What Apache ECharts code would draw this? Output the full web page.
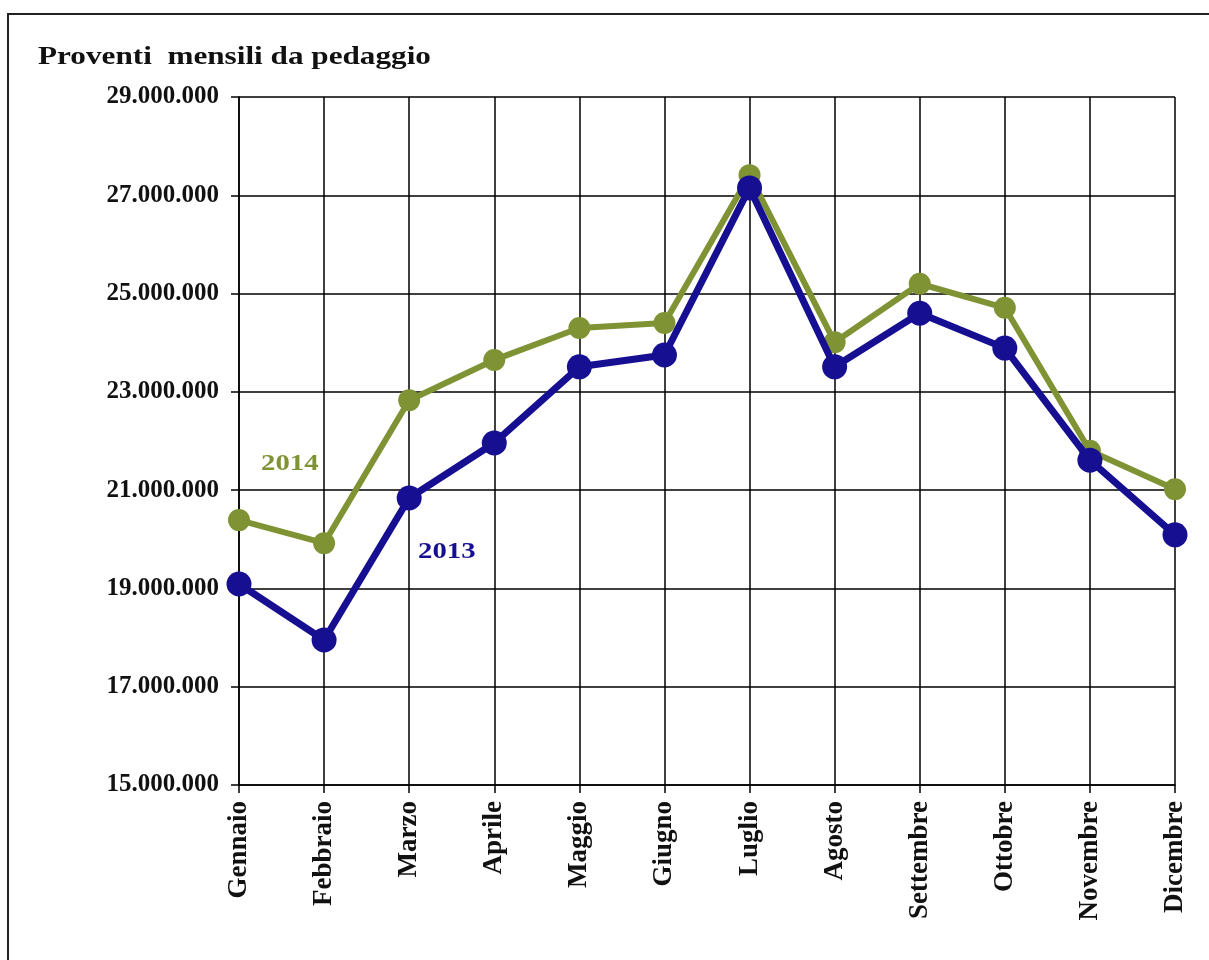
<!DOCTYPE html>
<html>
<head>
<meta charset="utf-8">
<title>Proventi mensili da pedaggio</title>
<script src="https://cdn.jsdelivr.net/npm/echarts@6/dist/echarts.min.js"></script>
<style>
  html, body { margin: 0; padding: 0; background: #fff; }
  #chart { width: 1209px; height: 960px; }
</style>
</head>
<body>
<div id="chart"></div>
<script>
var months = ['Gennaio', 'Febbraio', 'Marzo', 'Aprile', 'Maggio', 'Giugno',
  'Luglio', 'Agosto', 'Settembre', 'Ottobre', 'Novembre', 'Dicembre']

// valori (euro)
var data2013 = [19090000, 17950000, 20840000, 21960000, 23510000, 23750000,
  27150000, 23510000, 24600000, 23890000, 21610000, 20090000]
var data2014 = [20390000, 19920000, 22830000, 23650000, 24300000, 24400000,
  27410000, 24010000, 25200000, 24710000, 21800000, 21020000]

var yMin = 15000000
var yMax = 29000000
var yStep = 2000000

var serif = '"Liberation Serif", "Times New Roman", serif'
var navy = '#170f92'
var olive = '#7f9335'

function fmt(v) {
  return String(v).replace(/\B(?=(\d{3})+(?!\d))/g, '.')
}

var chart = echarts.init(document.getElementById('chart'))

chart.setOption({
  backgroundColor: '#fff',
  animation: false,
  grid: {
    left: 239,
    right: 34,
    top: 97,
    bottom: 175
  },
  xAxis: {
    type: 'category',
    boundaryGap: false,
    data: months,
    axisLine: { lineStyle: { color: '#000', width: 1.5 } },
    axisTick: { show: true, length: 8, lineStyle: { color: '#000', width: 1.5 } },
    splitLine: { show: true, lineStyle: { color: '#000', width: 1.5 } },
    axisLabel: {
      rotate: 90,
      margin: 16,
      fontFamily: serif,
      fontSize: 27,
      fontWeight: 'bold',
      color: '#111'
    }
  },
  yAxis: {
    type: 'value',
    min: yMin,
    max: yMax,
    interval: yStep,
    axisLine: { show: true, lineStyle: { color: '#000', width: 1.5 } },
    axisTick: { show: true, length: 8, lineStyle: { color: '#000', width: 1.5 } },
    splitLine: { show: true, lineStyle: { color: '#000', width: 1.5 } },
    axisLabel: {
      margin: 20,
      formatter: fmt,
      fontFamily: serif,
      fontSize: 25,
      fontWeight: 'bold',
      color: '#111'
    }
  },
  series: [{
    name: '2014',
    type: 'line',
    data: data2014,
    z: 2,
    symbol: 'circle',
    symbolSize: 22,
    lineStyle: { color: olive, width: 6 },
    itemStyle: { color: olive }
  }, {
    name: '2013',
    type: 'line',
    data: data2013,
    z: 3,
    symbol: 'circle',
    symbolSize: 25,
    lineStyle: { color: navy, width: 7 },
    itemStyle: { color: navy }
  }],
  graphic: [{
    type: 'rect',
    shape: { x: 8, y: 14, width: 1230, height: 980 },
    style: { fill: 'none', stroke: '#222', lineWidth: 2 },
    silent: true
  }, {
    // titolo, allargato come nell'originale
    type: 'text',
    x: 38,
    y: 44,
    scaleX: 1.2,
    style: {
      text: 'Proventi  mensili da pedaggio',
      fill: '#111',
      font: 'bold 26px ' + serif
    }
  }, {
    type: 'text',
    x: 261,
    y: 453,
    scaleX: 1.25,
    style: {
      text: '2014',
      fill: olive,
      font: 'bold 23px ' + serif
    }
  }, {
    type: 'text',
    x: 418,
    y: 541,
    scaleX: 1.25,
    style: {
      text: '2013',
      fill: navy,
      font: 'bold 23px ' + serif
    }
  }]
})
</script>
</body>
</html>
